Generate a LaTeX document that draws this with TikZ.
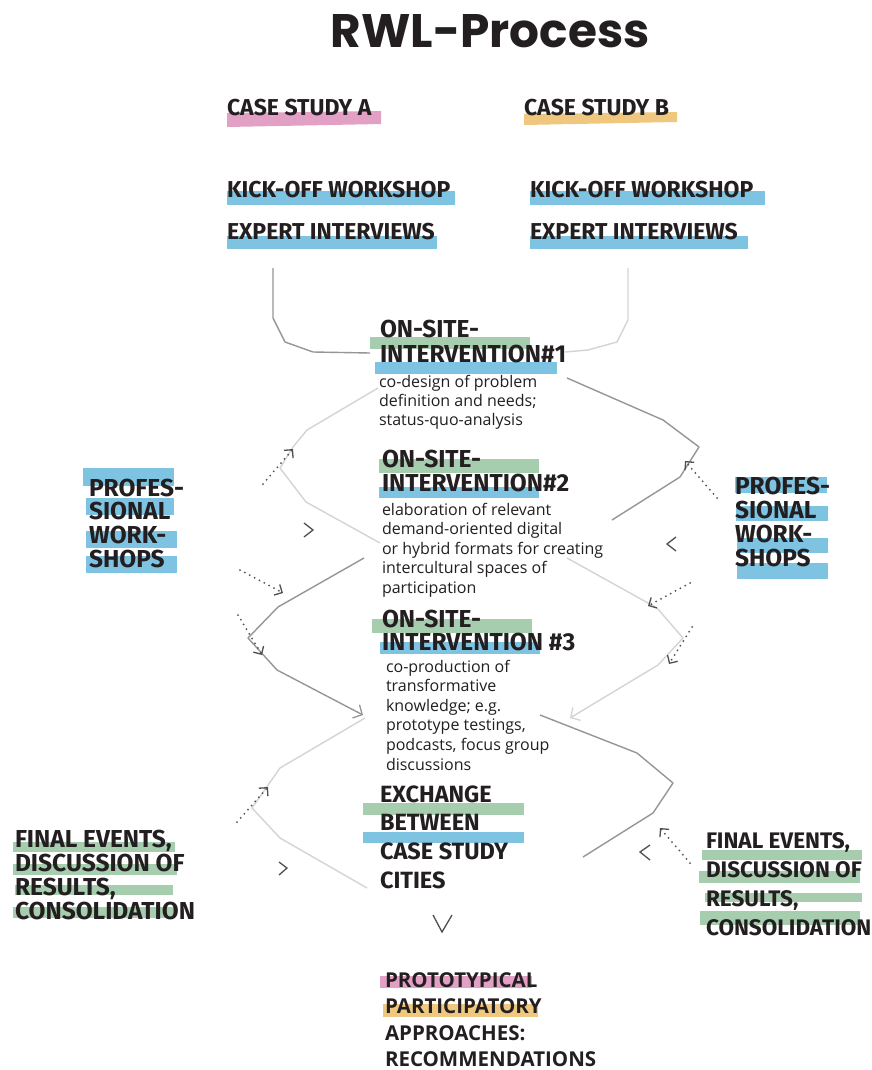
\documentclass[tikz,border=0pt]{standalone}
\usepackage{fontspec}
\setmainfont{Open Sans}
\newfontfamily\ttlfont{Poppins}
\newfontfamily\hdfont{Fira Sans}
\usetikzlibrary{arrows.meta}
\definecolor{ink}{RGB}{35,31,32}
\definecolor{hlpink}{RGB}{226,160,196}
\definecolor{hlyellow}{RGB}{239,199,126}
\definecolor{hlblue}{RGB}{126,196,226}
\definecolor{hlgreen}{RGB}{166,205,174}
\definecolor{midgray}{RGB}{150,150,150}
\definecolor{lightgray}{RGB}{212,212,212}
\definecolor{dotgray}{RGB}{80,80,80}
\newcommand\stacklines[6]{%
  \foreach \tline [count=\k from 0] in {#6}{%
    \node[#2,anchor=base west] (#1\k) at (#3,{#4+\k*#5}) {\tline};}}
\newcommand\hlrect[5]{\fill[#1] (#2,#3) rectangle (#4,#5);}
\begin{document}
\begin{tikzpicture}[x=1pt,y=-1pt,
  every node/.style={inner sep=0pt,outer sep=0pt,text=ink},
  ttl/.style={font=\ttlfont\bfseries\fontsize{47}{47}\selectfont},
  hd/.style={font=\hdfont\bfseries\fontsize{23}{23}\selectfont},
  ihd/.style={font=\hdfont\bfseries\fontsize{24.5}{24.5}\selectfont},
  sidehd/.style={font=\hdfont\bfseries\fontsize{24.5}{24.5}\selectfont},
  finl/.style={font=\hdfont\bfseries\fontsize{24.5}{24.5}\selectfont},
  finr/.style={font=\hdfont\bfseries\fontsize{22.5}{22.5}\selectfont},
  exch/.style={font=\hdfont\bfseries\fontsize{23.5}{23.5}\selectfont},
  body/.style={font=\fontsize{16}{19}\selectfont},
  res/.style={font=\bfseries\fontsize{20.5}{20.5}\selectfont},
  midline/.style={draw=midgray,line width=1.4pt,line join=round},
  lightline/.style={draw=lightgray,line width=1.4pt,line join=round},
  tipline/.style={-{Straight Barb[length=7pt,width=15pt,line width=1.3pt]}},
  dotarrow/.style={draw=dotgray,line width=2pt,dash pattern=on 0pt off 5.5pt,line cap=round,
     -{Straight Barb[length=6pt,width=12pt,line width=1.3pt]}},
  chev/.style={draw=dotgray,line width=1.3pt,line join=miter}
]
\useasboundingbox (0,0) rectangle (872,1070);
\fill[white] (0,0) rectangle (872,1070);

% ---------- highlight bars ----------
\fill[hlpink] (227,113) -- (381,111) -- (381,124) -- (227,127) -- cycle;
\fill[hlyellow] (524,114) -- (677,112) -- (677,122) -- (524,125) -- cycle;
\hlrect{hlblue}{227}{191}{455}{205}
\hlrect{hlblue}{227}{236}{437}{249}
\hlrect{hlblue}{530}{191}{765}{205}
\hlrect{hlblue}{530}{236}{748}{249}
% interventions
\hlrect{hlgreen}{370}{337}{530}{349}
\hlrect{hlblue}{375}{362}{557}{374}
\hlrect{hlgreen}{379}{459}{539}{473}
\hlrect{hlblue}{379}{487}{539}{498}
\hlrect{hlgreen}{372}{619}{532}{633}
\hlrect{hlblue}{380}{642}{540}{654}
\hlrect{hlgreen}{363}{803}{524}{815}
\hlrect{hlblue}{363}{832}{524}{843}
% professional workshops
\hlrect{hlblue}{83}{468}{174}{486}
\hlrect{hlblue}{86}{498}{174}{515}
\hlrect{hlblue}{86}{531}{177}{548}
\hlrect{hlblue}{86}{556}{177}{573}
\hlrect{hlblue}{735}{477}{827}{493}
\hlrect{hlblue}{736}{506}{828}{521}
\hlrect{hlblue}{737}{538}{828}{553}
\hlrect{hlblue}{737}{563}{828}{579}
% final events
\hlrect{hlgreen}{13}{842}{175}{852}
\hlrect{hlgreen}{13}{864}{177}{875}
\hlrect{hlgreen}{15}{885}{173}{895}
\hlrect{hlgreen}{13}{907}{175}{918}
\hlrect{hlgreen}{702}{850}{862}{860}
\hlrect{hlgreen}{699}{871}{860}{883}
\hlrect{hlgreen}{705}{893}{862}{902}
\hlrect{hlgreen}{700}{911}{860}{925}
% results
\hlrect{hlpink}{380}{976}{532}{988}
\hlrect{hlyellow}{383}{1004}{538}{1017}

% ---------- texts ----------
\node[ttl,anchor=base] (title) at (490,48) {RWL-Process};
\node[hd,anchor=base west] (csa) at (227,116) {CASE STUDY A};
\node[hd,anchor=base west] (csb) at (524,116) {CASE STUDY B};
\stacklines{ka}{hd}{227}{197}{42}{KICK-OFF WORKSHOP,EXPERT INTERVIEWS}
\stacklines{kb}{hd}{530}{197}{42}{KICK-OFF WORKSHOP,EXPERT INTERVIEWS}

\stacklines{ia}{ihd}{380}{337}{25}{ON-SITE-,INTERVENTION\#1}
\stacklines{ta}{body}{379}{387}{19}{co-design of problem,definition and needs;,status-quo-analysis}
\stacklines{ib}{ihd}{382}{467}{24}{ON-SITE-,INTERVENTION\#2}
\stacklines{tb}{body}{382}{515}{19.5}{elaboration of relevant,demand-oriented digital,or hybrid formats for creating,intercultural spaces of,participation}
\stacklines{ic}{ihd}{382}{627}{23}{ON-SITE-,INTERVENTION \#3}
\stacklines{tc}{body}{386}{672}{19.6}{co-production of,transformative,knowledge; e.g.,{prototype testings,},{podcasts, focus group},discussions}
\stacklines{ex}{exch}{380}{802}{28.7}{EXCHANGE,BETWEEN,CASE STUDY,CITIES}

\stacklines{pl}{sidehd}{89}{496}{23.8}{PROFES-,SIONAL,WORK-,SHOPS}
\stacklines{pr}{sidehd}{735}{494}{24}{PROFES-,SIONAL,WORK-,SHOPS}
\stacklines{fl}{finl}{15}{847}{24}{{FINAL EVENTS,},{DISCUSSION OF},{RESULTS,},CONSOLIDATION}
\stacklines{fr}{finr}{706}{848}{29}{{FINAL EVENTS,},{DISCUSSION OF},{RESULTS,},CONSOLIDATION}
\stacklines{rs}{res}{385}{987}{26.5}{PROTOTYPICAL,PARTICIPATORY,APPROACHES:,RECOMMENDATIONS}

% ---------- connectors ----------
\coordinate (a0) at (273,268); \coordinate (a1) at (273,318); \coordinate (a2) at (285,342);
\coordinate (a3) at (313,352); \coordinate (a4) at (370,353);
\draw[midline] (a0) -- (a1) -- (a2) -- (a3) -- (a4);
\coordinate (b0) at (628,268); \coordinate (b1) at (628,320); \coordinate (b2) at (617,342);
\coordinate (b3) at (588,350); \coordinate (b4) at (565,352);
\draw[lightline] (b0) -- (b1) -- (b2) -- (b3) -- (b4);
\coordinate (c0) at (378,388); \coordinate (c1) at (307,430); \coordinate (c2) at (293,447);
\coordinate (c3) at (280,468); \coordinate (c4) at (306,502); \coordinate (c5) at (380,543);
\draw[lightline] (c0) -- (c1) -- (c2) -- (c3) -- (c4) -- (c5);
\coordinate (d0) at (567,378); \coordinate (d1) at (663,420); \coordinate (d2) at (699,447);
\coordinate (d3) at (680,477); \coordinate (d4) at (612,520);
\draw[midline] (d0) -- (d1) -- (d2) -- (d3) -- (d4);
\coordinate (e0) at (364,558); \coordinate (e1) at (278,607); \coordinate (e2) at (248,638);
\coordinate (e3) at (277,670); \coordinate (e4) at (363,715);
\draw[midline,tipline] (e0) -- (e1) -- (e2) -- (e3) -- (e4);
\coordinate (f0) at (567,558); \coordinate (f1) at (657,608); \coordinate (f2) at (683,638);
\coordinate (f3) at (658,665); \coordinate (f4) at (570,718);
\draw[lightline,tipline] (f0) -- (f1) -- (f2) -- (f3) -- (f4);
\coordinate (g0) at (365,718); \coordinate (g1) at (280,768); \coordinate (g2) at (252,808);
\coordinate (g3) at (280,838); \coordinate (g4) at (367,888);
\draw[lightline] (g0) -- (g1) -- (g2) -- (g3) -- (g4);
\coordinate (h0) at (540,715); \coordinate (h1) at (637,753); \coordinate (h2) at (673,783);
\coordinate (h3) at (653,813); \coordinate (h4) at (583,857);
\draw[midline] (h0) -- (h1) -- (h2) -- (h3) -- (h4);

% dotted arrows
\coordinate (p1s) at (263,484); \coordinate (p1e) at (293,449);
\coordinate (p2s) at (240,570); \coordinate (p2e) at (283,593);
\coordinate (p3s) at (238,615); \coordinate (p3e) at (262,655);
\coordinate (p4s) at (717,498); \coordinate (p4e) at (685,461);
\coordinate (p5s) at (690,583); \coordinate (p5e) at (648,606);
\coordinate (p6s) at (692,627); \coordinate (p6e) at (669,664);
\coordinate (p7s) at (237,822); \coordinate (p7e) at (268,787);
\coordinate (p8s) at (690,863); \coordinate (p8e) at (660,828);
\foreach \n in {1,...,8}{\draw[dotarrow] (p\n s) -- (p\n e);}

% chevrons
\draw[chev] (304,523) -- (313,530) -- (304,537);
\draw[chev] (676,537) -- (667,544) -- (676,551);
\draw[chev] (279,862) -- (287,868) -- (279,875);
\draw[chev] (650,845) -- (640,852) -- (650,860);
\draw[chev] (433,915) -- (442,932) -- (452,915);
\end{tikzpicture}
\end{document}
